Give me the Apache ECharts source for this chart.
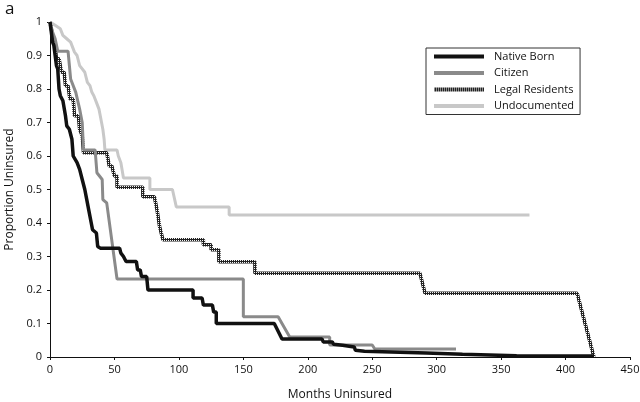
<!DOCTYPE html>
<html>
<head>
<meta charset="utf-8">
<script src="https://cdn.jsdelivr.net/npm/echarts@6/dist/echarts.min.js"></script>
<style>
html,body{margin:0;padding:0;background:#fff;}
#chart{width:640px;height:402px;}
</style>
</head>
<body>
<div id="chart"></div>
<script>
const seriesNames = ['Native Born', 'Citizen', 'Legal Residents', 'Undocumented'];
const xTicks = [0, 50, 100, 150, 200, 250, 300, 350, 400, 450];
const yTicks = [0, 0.1, 0.2, 0.3, 0.4, 0.5, 0.6, 0.7, 0.8, 0.9, 1];

const nativeBorn = [[0,1],[1,0.97],[2,0.94],[3,0.93],[4,0.9],[5,0.87],[6,0.86],[7,0.8],[8,0.78],[10,0.765],[12,0.72],[13,0.69],[15,0.68],[17,0.65],[18,0.6],[21,0.58],[23,0.56],[25,0.53],[27,0.5],[29,0.46],[30,0.44],[32,0.4],[33,0.38],[36,0.37],[37,0.33],[39,0.325],[54,0.325],[55,0.31],[57,0.3],[59,0.285],[67,0.285],[68,0.26],[70,0.26],[71,0.24],[75,0.24],[76,0.2],[111,0.2],[111,0.176],[118,0.176],[119,0.155],[126,0.155],[127,0.134],[129,0.134],[129,0.1],[174,0.1],[180,0.054],[211,0.054],[212,0.045],[219,0.045],[220,0.038],[227,0.035],[228,0.03],[236,0.03],[237,0.02],[244,0.017],[245,0.012],[292,0.012],[320,0.008],[362,0.004],[422,0.003]];

const citizen = [[0,1],[2,0.97],[4,0.95],[6,0.913],[14,0.913],[16,0.83],[20,0.79],[23,0.74],[25,0.7],[26,0.618],[35,0.618],[36.4,0.55],[40.5,0.53],[41,0.47],[44,0.46],[52,0.233],[150,0.233],[150,0.12],[177,0.12],[186,0.06],[217,0.06],[217,0.036],[250,0.036],[252,0.024],[315,0.024]];

const legalResidents = [[0,1],[2,0.96],[4,0.93],[5,0.89],[7,0.89],[9,0.85],[11,0.85],[12,0.81],[14,0.81],[15.5,0.77],[18,0.77],[19,0.72],[22,0.72],[23,0.68],[25,0.66],[26,0.61],[44,0.61],[46,0.57],[48,0.57],[50,0.54],[52,0.54],[52,0.507],[72,0.507],[72,0.478],[81,0.478],[83,0.44],[85,0.39],[87.6,0.35],[119,0.35],[119,0.335],[125,0.335],[125,0.32],[131,0.32],[131,0.284],[159,0.284],[159,0.25],[287,0.25],[291,0.19],[409,0.19],[422,0]];

const undocumented = [[0,1],[4,0.99],[8,0.98],[10,0.96],[13,0.95],[16,0.94],[19,0.91],[21,0.9],[23,0.87],[25,0.86],[27,0.85],[29,0.82],[31,0.81],[32.5,0.79],[34,0.78],[36,0.76],[38,0.74],[39,0.72],[40,0.7],[41,0.68],[42,0.65],[42.6,0.618],[52,0.618],[53,0.6],[55,0.58],[57,0.534],[77.5,0.534],[77.5,0.5],[95,0.5],[98,0.448],[139,0.448],[139,0.424],[372,0.424]];

// checkered texture for Legal Residents line
const pc = document.createElement('canvas');
pc.width = 2; pc.height = 2;
const pctx = pc.getContext('2d');
pctx.fillStyle = '#222'; pctx.fillRect(0,0,2,2);
pctx.fillStyle = '#f4f4f4'; pctx.fillRect(0,0,1,1);
const legalPattern = {image: pc, repeat: 'repeat'};

const FONT = 'Open Sans';
const chart = echarts.init(document.getElementById('chart'), null, {renderer: 'canvas'});
const mk = (name, data, color, width) => ({
  name, type: 'line', data, symbol: 'none', showSymbol: false, smooth: false,
  lineStyle: {color, width}, itemStyle: {color}, z: 2
});
chart.setOption({
  animation: false,
  backgroundColor: '#fff',
  title: {text: 'a', left: 0, top: -4, textStyle: {fontFamily: FONT, fontSize: 17, fontWeight: 'normal', color: '#111'}},
  grid: {left: 50, right: 10, top: 22, bottom: 45, containLabel: false, outerBoundsMode: 'none'},
  legend: {
    data: seriesNames, orient: 'vertical', left: 426, top: 48,
    borderColor: '#333', borderWidth: 1, padding: [3, 6, 3, 6],
    itemWidth: 50, itemHeight: 12, itemGap: 5.5,
    itemStyle: {opacity: 0},
    lineStyle: {width: 4},
    textStyle: {fontFamily: FONT, fontSize: 11, color: '#111', padding: [0, 0, 0, 5]}
  },
  xAxis: {
    type: 'value', min: xTicks[0], max: xTicks[xTicks.length-1], interval: 50,
    name: 'Months Uninsured', nameLocation: 'middle', nameGap: 32,
    nameTextStyle: {fontFamily: FONT, fontSize: 12, color: '#111'},
    axisLine: {show: true, lineStyle: {color: '#111', width: 1}},
    axisTick: {show: true, length: 3, lineStyle: {color: '#111'}},
    axisLabel: {fontFamily: FONT, fontSize: 11, color: '#111', margin: 7},
    splitLine: {show: false}
  },
  yAxis: {
    type: 'value', min: yTicks[0], max: yTicks[yTicks.length-1], interval: 0.1,
    name: 'Proportion Uninsured', nameLocation: 'middle', nameGap: 31,
    nameTextStyle: {fontFamily: FONT, fontSize: 12, color: '#111'},
    axisLine: {show: true, lineStyle: {color: '#111', width: 1}},
    axisTick: {show: true, length: 3, lineStyle: {color: '#111'}},
    axisLabel: {fontFamily: FONT, fontSize: 11, color: '#111', margin: 8},
    splitLine: {show: false}
  },
  series: [
    mk('Undocumented', undocumented, '#c8c8c8', 3),
    mk('Legal Residents', legalResidents, legalPattern, 3.5),
    mk('Citizen', citizen, '#8a8a8a', 3),
    mk('Native Born', nativeBorn, '#111111', 3.5)
  ]
});
</script>
</body>
</html>
